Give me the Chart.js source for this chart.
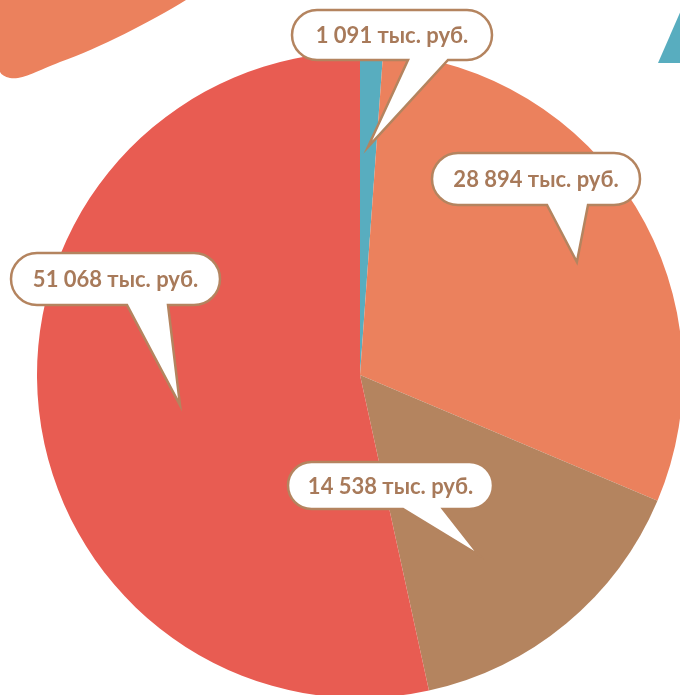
<!DOCTYPE html>
<html>
<head>
<meta charset="utf-8">
<script src="https://cdn.jsdelivr.net/npm/chart.js@4"></script>
<style>
  html, body { margin: 0; padding: 0; background: #fff; overflow: hidden; }
  #wrap { position: relative; width: 680px; height: 695px; overflow: hidden; }
  #pie { position: absolute; left: 0; top: 0; }
</style>
</head>
<body>
<div id="wrap"><canvas id="pie" width="720" height="720"></canvas></div>
<script>
// данные
const labels = ["A", "B", "C", "D"];
const values = [1091, 28894, 14538, 51068];
const colors = ["#58adbf", "#eb815d", "#b4845f", "#e85c52"];
const unit = "тыс. руб.";

// выноски: коробка (x, y, w, h), основание хвоста, кончик (угол и доля радиуса)
const boxes = [
  { x: 292, y: 10, w: 200, h: 50, bl: 408, br: 448, ang: 2.0, fr: 0.706 },
  { x: 432, y: 153, w: 208, h: 52, bl: 547, br: 588, ang: 62.5, fr: 0.757 },
  { x: 288, y: 462, w: 205, h: 47, bl: 403, br: 443, ang: 146.5, fr: 0.67 },
  { x: 11, y: 253, w: 209, h: 52, bl: 127, br: 168, ang: 260.5, fr: 0.565 },
];

function fmt(n) {
  return String(n).replace(/\B(?=(\d{3})+(?!\d))/g, " ") + " " + unit;
}

// фон: оранжевое пятно и бирюзовый треугольник
const decor = {
  id: "decor",
  beforeDraw(chart) {
    const ctx = chart.ctx;
    ctx.save();
    ctx.fillStyle = "#eb815d";
    ctx.beginPath();
    ctx.moveTo(0, 0);
    ctx.lineTo(186, 0);
    ctx.bezierCurveTo(150, 22, 100, 48, 60, 62);
    ctx.bezierCurveTo(35, 72, 22, 80, 10, 78);
    ctx.quadraticCurveTo(2, 76, 0, 72);
    ctx.closePath();
    ctx.fill();
    ctx.fillStyle = "#58adbf";
    ctx.beginPath();
    ctx.moveTo(658, 63);
    ctx.lineTo(682, 63);
    ctx.lineTo(682, 8);
    ctx.closePath();
    ctx.fill();
    ctx.restore();
  },
};

const callouts = {
  id: "callouts",
  afterDraw(chart) {
    const ctx = chart.ctx;
    const arcs = chart.getDatasetMeta(0).data;
    ctx.save();
    boxes.forEach((b, i) => {
      const a = arcs[i];
      const rad = (b.ang * Math.PI) / 180;
      const tx = a.x + b.fr * a.outerRadius * Math.sin(rad);
      const ty = a.y - b.fr * a.outerRadius * Math.cos(rad);
      const r = b.h / 2;
      ctx.beginPath();
      ctx.moveTo(b.x + r, b.y);
      ctx.lineTo(b.x + b.w - r, b.y);
      ctx.arc(b.x + b.w - r, b.y + r, r, -Math.PI / 2, Math.PI / 2);
      ctx.lineTo(b.br, b.y + b.h);
      ctx.lineTo(tx, ty);
      ctx.lineTo(b.bl, b.y + b.h);
      ctx.lineTo(b.x + r, b.y + b.h);
      ctx.arc(b.x + r, b.y + r, r, Math.PI / 2, (3 * Math.PI) / 2);
      ctx.closePath();
      ctx.fillStyle = "#ffffff";
      ctx.fill();
      ctx.lineWidth = 2.5;
      ctx.strokeStyle = "#b4845f";
      ctx.lineJoin = "miter";
      ctx.stroke();
      ctx.fillStyle = "#a87a5a";
      ctx.font = "bold 22px Lato, 'Open Sans', sans-serif";
      ctx.textAlign = "center";
      ctx.textBaseline = "middle";
      ctx.fillText(fmt(values[i]), b.x + b.w / 2, b.y + b.h / 2 + 1);
    });
    ctx.restore();
  },
};

const R = 323;
new Chart(document.getElementById("pie"), {
  type: "pie",
  data: {
    labels: labels,
    datasets: [
      {
        data: values,
        backgroundColor: colors,
        borderWidth: 0,
      },
    ],
  },
  options: {
    responsive: false,
    animation: false,
    layout: {
      padding: { left: 360 - R, top: 375 - R, right: 720 - 360 - R, bottom: 720 - 375 - R },
    },
    plugins: {
      legend: { display: false },
      tooltip: { enabled: false },
    },
  },
  plugins: [decor, callouts],
});
</script>
</body>
</html>
